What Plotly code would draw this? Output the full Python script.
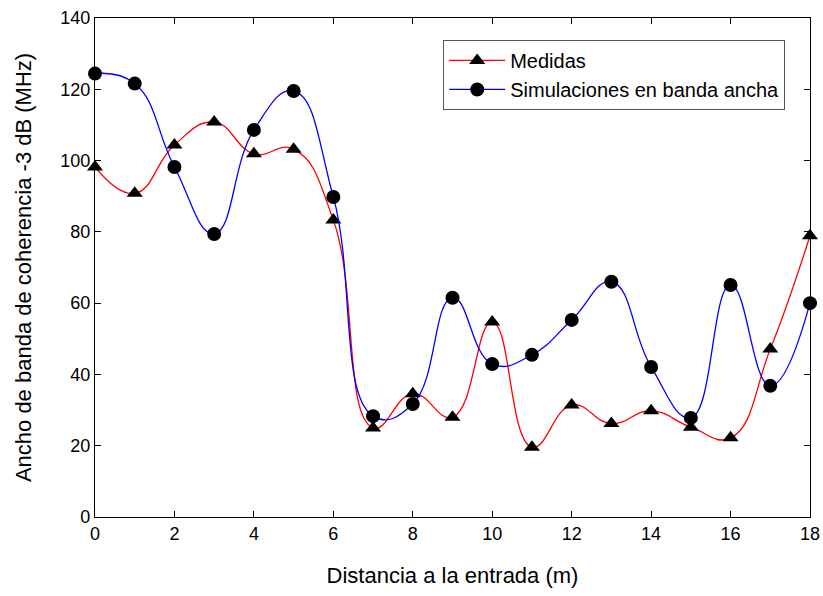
import plotly.graph_objects as go

distancia = list(range(0, 19))
medidas = [98.2, 90.8, 104.4, 110.8, 101.9, 103.2, 83.3, 25.0, 34.6, 28.0, 54.7,
           19.6, 31.4, 26.2, 29.8, 25.2, 22.2, 47.1, 78.9]
simulaciones = [124.4, 121.6, 98.2, 79.4, 108.6, 119.5, 89.8, 28.3, 31.7, 61.5, 42.9,
                45.5, 55.3, 66.0, 42.1, 27.8, 65.1, 36.8, 60.0]

fig = go.Figure()
fig.add_trace(go.Scatter(
    x=distancia, y=medidas, name="Medidas", mode="lines+markers",
    line=dict(color="red", width=1.3, shape="spline", smoothing=1.3),
    marker=dict(symbol="triangle-up", size=14, color="black"),
    cliponaxis=False))
fig.add_trace(go.Scatter(
    x=distancia, y=simulaciones, name="Simulaciones en banda ancha", mode="lines+markers",
    line=dict(color="blue", width=1.3, shape="spline", smoothing=1.3),
    marker=dict(symbol="circle", size=14, color="black"),
    cliponaxis=False))

axis_common = dict(showline=True, linecolor="black", linewidth=1.3, mirror="ticks",
                   ticks="inside", ticklen=6, tickcolor="black", showgrid=False,
                   zeroline=False, automargin=False,
                   tickfont=dict(family="Liberation Sans", size=18, color="black"))

fig.update_layout(
    width=823, height=596,
    margin=dict(l=95, r=13, t=18, b=79),
    plot_bgcolor="white", paper_bgcolor="white",
    font=dict(family="Liberation Sans", color="black"),
    xaxis=dict(range=[0, 18], tickvals=list(range(0, 19, 2)),
               title=dict(text="Distancia a la entrada (m)", font=dict(size=22), standoff=24),
               **axis_common),
    yaxis=dict(range=[0, 140], tickvals=list(range(0, 141, 20)),
               title=dict(text="Ancho de banda de coherencia -3 dB (MHz)", font=dict(size=22), standoff=22),
               **axis_common),
    legend=dict(x=0.487, y=0.956, xanchor="left", yanchor="top",
                bordercolor="#555", borderwidth=1, bgcolor="white",
                font=dict(size=20), tracegroupgap=0, itemwidth=56),
    showlegend=True,
)

fig.write_html("out.html")
